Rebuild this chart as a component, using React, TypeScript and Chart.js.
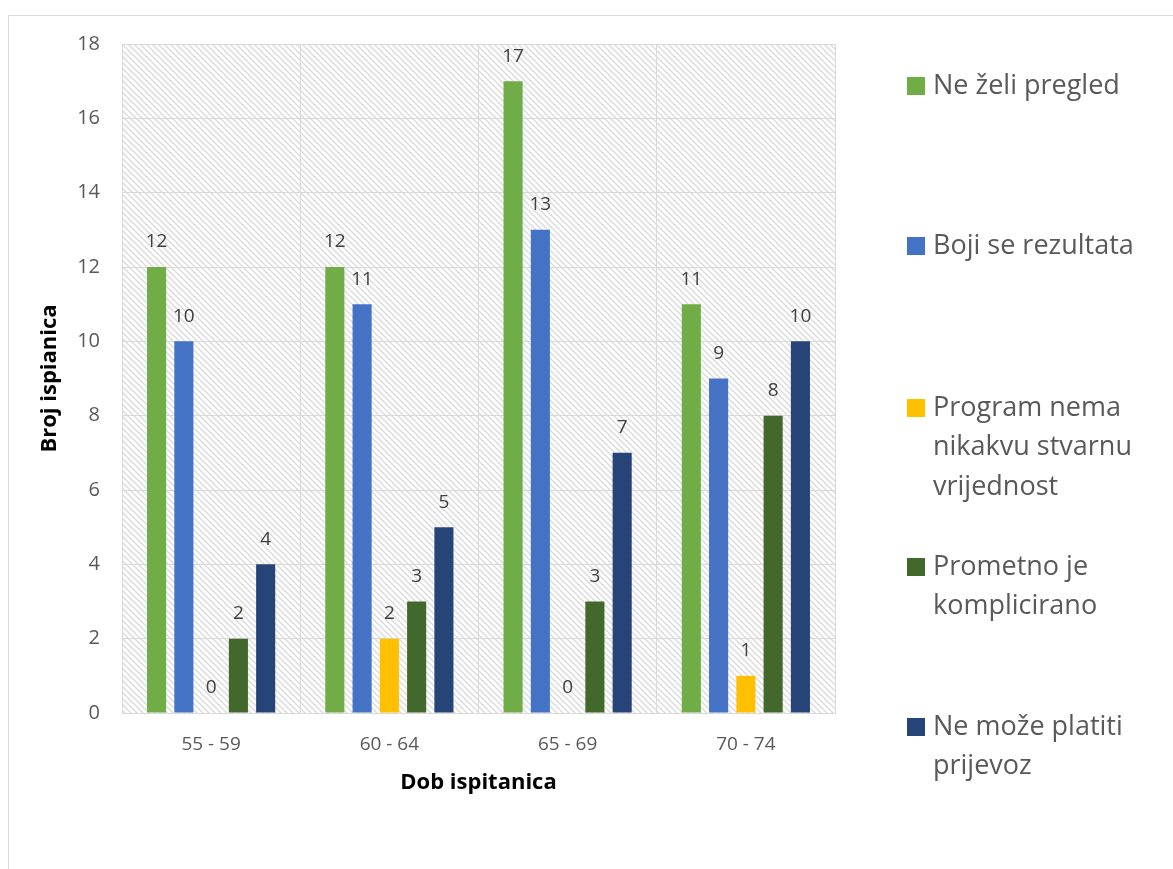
import React, { useEffect, useRef } from "react";
import { Chart, registerables } from "chart.js";

Chart.register(...registerables);

const categories = ["55 - 59", "60 - 64", "65 - 69", "70 - 74"];
const neZeliPregled = [12, 12, 17, 11];
const bojiSeRezultata = [10, 11, 13, 9];
const programNema = [0, 2, 0, 1];
const prometnoJe = [2, 3, 3, 8];
const neMozePlatiti = [4, 5, 7, 10];
const seriesNames = [
  "Ne želi pregled",
  "Boji se rezultata",
  "Program nema nikakvu stvarnu vrijednost",
  "Prometno je komplicirano",
  "Ne može platiti prijevoz",
];
const legendLines = [
  ["Ne želi pregled"],
  ["Boji se rezultata"],
  ["Program nema", "nikakvu stvarnu", "vrijednost"],
  ["Prometno je", "komplicirano"],
  ["Ne može platiti", "prijevoz"],
];
const colors = ["#70AD47", "#4472C4", "#FFC000", "#43682B", "#264478"];
const xTitle = "Dob ispitanica";
const yTitle = "Broj ispianica";

const FONT = "'Open Sans', 'Noto Sans', sans-serif";

export default function App() {
  const ref = useRef<HTMLCanvasElement>(null);
  useEffect(() => {
    const canvas = ref.current!;
    const ctx = canvas.getContext("2d")!;

    const tile = document.createElement("canvas");
    tile.width = 6;
    tile.height = 6;
    const tctx = tile.getContext("2d")!;
    tctx.strokeStyle = "#dcdcdc";
    tctx.lineWidth = 1.5;
    tctx.beginPath();
    tctx.moveTo(-1, -1);
    tctx.lineTo(7, 7);
    tctx.moveTo(-4, 2);
    tctx.lineTo(2, 8);
    tctx.moveTo(2, -4);
    tctx.lineTo(8, 2);
    tctx.stroke();
    const pattern = ctx.createPattern(tile, "repeat")!;

    const bgPlugin = {
      id: "bgHatch",
      beforeDraw(chart: any) {
        const a = chart.chartArea;
        const c = chart.ctx;
        c.save();
        c.fillStyle = pattern;
        c.fillRect(a.left, a.top, a.right - a.left, a.bottom - a.top);
        c.restore();
      },
    };

    const labelsPlugin = {
      id: "labelsAndLegend",
      afterDatasetsDraw(chart: any) {
        const c = chart.ctx;
        c.save();
        c.font = `19px ${FONT}`;
        c.fillStyle = "#404040";
        c.textAlign = "center";
        c.textBaseline = "middle";
        chart.data.datasets.forEach((ds: any, i: number) => {
          const meta = chart.getDatasetMeta(i);
          meta.data.forEach((el: any, j: number) => {
            c.fillText(String(ds.data[j]), el.x, el.y - 25);
          });
        });
        c.restore();
      },
      afterDraw(chart: any) {
        const c = chart.ctx;
        const a = chart.chartArea;
        c.save();
        c.fillStyle = "#000000";
        c.font = `bold 22px ${FONT}`;
        c.textAlign = "center";
        c.textBaseline = "middle";
        c.fillText(xTitle, (a.left + a.right) / 2, 783);
        c.translate(50, (a.top + a.bottom) / 2);
        c.rotate(-Math.PI / 2);
        c.fillText(yTitle, 0, 0);
        c.restore();

        c.save();
        const firstLineY = [86, 246, 408, 567, 727];
        c.font = `27px ${FONT}`;
        c.textAlign = "left";
        c.textBaseline = "middle";
        legendLines.forEach((lines, i) => {
          c.fillStyle = colors[i];
          c.fillRect(907, firstLineY[i] - 9, 18, 18);
          c.fillStyle = "#595959";
          lines.forEach((ln, k) => {
            c.fillText(ln, 933, firstLineY[i] + k * 39.5);
          });
        });
        c.restore();
      },
    };

    const dataArrays = [neZeliPregled, bojiSeRezultata, programNema, prometnoJe, neMozePlatiti];

    const chart = new Chart(canvas, {
      type: "bar",
      data: {
        labels: categories,
        datasets: dataArrays.map((d, i) => ({
          label: seriesNames[i],
          data: d,
          backgroundColor: colors[i],
          borderWidth: 0,
          categoryPercentage: 0.765,
          barPercentage: 0.7,
        })),
      },
      options: {
        responsive: false,
        animation: false,
        devicePixelRatio: 1,
        layout: { padding: { left: 0, top: 44, right: 338, bottom: 0 } },
        plugins: {
          legend: { display: false },
          tooltip: { enabled: false },
          title: { display: false },
        },
        scales: {
          x: {
            grid: { color: "#d9d9d9", lineWidth: 1, drawTicks: false, offset: true },
            border: { color: "#d9d9d9", width: 1 },
            ticks: { color: "#595959", font: { family: FONT, size: 19 }, padding: 20 },
            afterFit(scale: any) {
              scale.height = 156;
            },
          },
          y: {
            min: 0,
            max: 18,
            grid: { color: "#d9d9d9", lineWidth: 1, drawTicks: false },
            border: { color: "#d9d9d9", width: 1 },
            ticks: { stepSize: 2, color: "#595959", font: { family: FONT, size: 20 }, padding: 22 },
            afterFit(scale: any) {
              scale.width = 122;
            },
          },
        },
      },
      plugins: [bgPlugin, labelsPlugin],
    } as any);
    return () => chart.destroy();
  }, []);

  return (
    <div style={{ position: "fixed", left: 0, top: 0, width: 1173, height: 869, overflow: "hidden", background: "#fff" }}>
      <div
        style={{
          position: "absolute",
          left: 8,
          top: 15,
          width: 1200,
          height: 900,
          border: "1px solid #d9d9d9",
          boxSizing: "border-box",
        }}
      />
      <canvas ref={ref} width={1173} height={869} style={{ position: "absolute", left: 0, top: 0 }} />
    </div>
  );
}
